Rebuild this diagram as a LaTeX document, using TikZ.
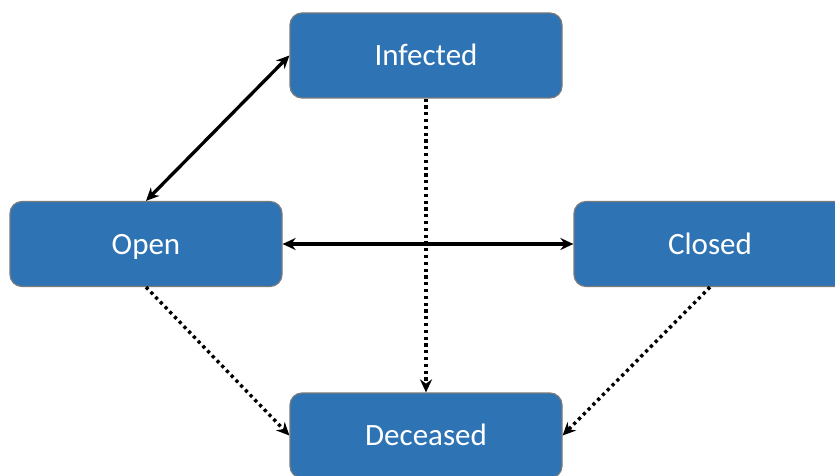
\documentclass[tikz,border=0pt]{standalone}
\usepackage{fontspec}
\setmainfont{Carlito}
\usetikzlibrary{arrows.meta}
\definecolor{boxblue}{HTML}{2E74B5}
\definecolor{boxedge}{HTML}{7A7A7A}
\begin{document}
\begin{tikzpicture}[x=1pt,y=-1pt,
  statebox/.style={draw=boxedge, line width=1.2pt, fill=boxblue, rounded corners=12pt,
    minimum width=272pt, minimum height=85pt, inner sep=0pt, text=white,
    text height=20pt, text depth=-3pt,
    font=\fontsize{31}{36}\selectfont},
  solidlink/.style={line width=3.3pt, {Stealth[length=13pt,width=12pt]}-{Stealth[length=13pt,width=12pt]}},
  dotlink/.style={line width=3.4pt, dash pattern=on 3.2pt off 3.6pt, -{Stealth[length=13pt,width=12pt]}}
]
\useasboundingbox (0,0) rectangle (835,476);
\clip (0,0) rectangle (835,476);
\node[statebox] (inf) at (426,55.5) {Infected};
\node[statebox] (open) at (146,244) {Open};
\node[statebox] (closed) at (710,244) {Closed};
\node[statebox] (dec) at (426,435.5) {Deceased};
\draw[solidlink] (open.north) -- (inf.west);
\draw[solidlink] (open.east) -- (closed.west);
\draw[dotlink] (inf.south) -- (dec.north);
\draw[dotlink] (open.south) -- (dec.west);
\draw[dotlink] (closed.south) -- (dec.east);
\end{tikzpicture}
\end{document}
